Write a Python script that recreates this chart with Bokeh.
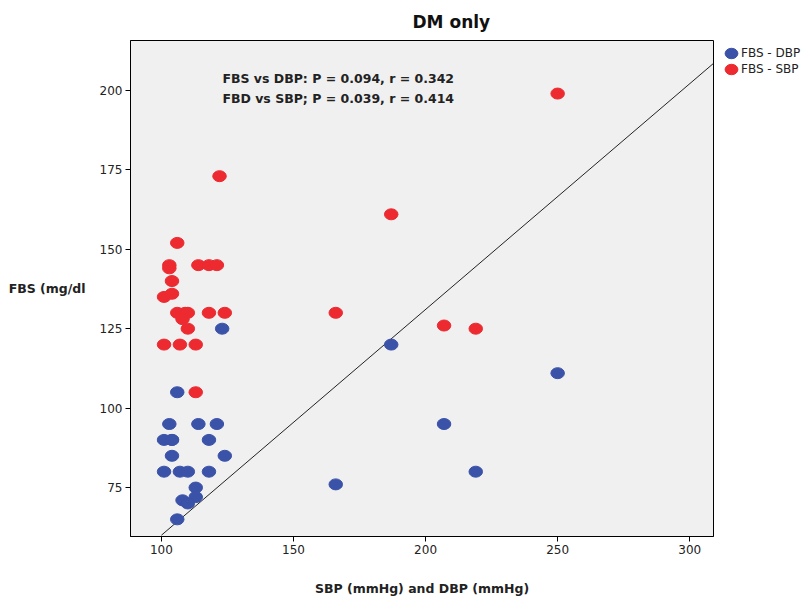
from bokeh.plotting import figure
from bokeh.models import Range1d, Label, Legend, LegendItem, FixedTicker
from bokeh.embed import file_html
from bokeh.resources import INLINE

# ---- data ----
dbp_x = [250, 187, 166, 207, 219, 123, 106, 103, 114, 121, 104, 101, 104, 118, 104, 124,
         101, 107, 110, 118, 113, 108, 113, 110, 106]
dbp_y = [111, 120, 76, 95, 80, 125, 105, 95, 95, 95, 90, 90, 90, 90, 85, 85,
         80, 80, 80, 80, 75, 71, 72, 70, 65]
sbp_x = [250, 187, 166, 207, 219, 122, 106, 103, 103, 114, 118, 121, 104, 101, 104,
         106, 109, 110, 108, 118, 124, 110, 101, 107, 113, 113]
sbp_y = [199, 161, 130, 126, 125, 173, 152, 145, 144, 145, 145, 145, 140, 135, 136,
         130, 130, 130, 128, 130, 130, 125, 120, 120, 120, 105]
ref_line_x = [100, 309]
ref_line_y = [60, 208.5]
x_ticks = [100, 150, 200, 250, 300]
y_ticks = [75, 100, 125, 150, 175, 200]
series_names = ["FBS - DBP", "FBS - SBP"]
stats_lines = ["FBS vs DBP: P = 0.094, r = 0.342", "FBD vs SBP; P = 0.039, r = 0.414"]

FONT = "DejaVu Sans"
BLUE = "#3a52a8"
RED = "#ec2a30"

p = figure(frame_width=583, frame_height=496,
           min_border_left=130, min_border_right=90,
           min_border_top=40, min_border_bottom=60,
           x_range=Range1d(88.3, 309), y_range=Range1d(59.6, 215.7),
           output_backend="svg", toolbar_location=None,
           background_fill_color="#f0f0f0", border_fill_color="white")

p.outline_line_color = "black"
p.outline_line_width = 1
p.xgrid.visible = False
p.ygrid.visible = False

p.title.text = "DM only"
p.title.text_font = FONT
p.title.text_font_size = "17px"
p.title.text_font_style = "bold"
p.title.align = "left"
p.title.offset = 282
p.title.standoff = 17
p.title.text_color = "#111111"

for ax in (p.xaxis[0], p.yaxis[0]):
    ax.major_label_text_font = FONT
    ax.major_label_text_font_size = "12px"
    ax.major_label_text_color = "#222222"
    ax.major_label_standoff = 3
    ax.axis_line_color = "black"
    ax.major_tick_line_color = "black"
    ax.major_tick_out = 5
    ax.major_tick_in = 0
    ax.minor_tick_line_color = None

p.xaxis.ticker = FixedTicker(ticks=x_ticks)
p.yaxis.ticker = FixedTicker(ticks=y_ticks)
p.xaxis.axis_label = "SBP (mmHg) and DBP (mmHg)"
p.xaxis.axis_label_text_font = FONT
p.xaxis.axis_label_text_font_size = "12.5px"
p.xaxis.axis_label_text_font_style = "bold"
p.xaxis.axis_label_text_color = "#222222"
p.xaxis.axis_label_standoff = 24

yax = p.yaxis[0]
yax.axis_label = "FBS (mg/dl"
yax.axis_label_text_font = FONT
yax.axis_label_text_font_size = "12.5px"
yax.axis_label_text_font_style = "bold"
yax.axis_label_text_color = "#222222"
yax.axis_label_standoff = 11
yax.axis_label_orientation = "horizontal"

p.line(ref_line_x, ref_line_y, line_color="#222222", line_width=1)

r_dbp = p.ellipse(dbp_x, dbp_y, width=13.5, height=11,
                  width_units="screen", height_units="screen",
                  fill_color=BLUE, line_color=BLUE)
r_sbp = p.ellipse(sbp_x, sbp_y, width=13.5, height=11,
                  width_units="screen", height_units="screen",
                  fill_color=RED, line_color=RED)

legend = Legend(items=[LegendItem(label=series_names[0], renderers=[r_dbp]),
                       LegendItem(label=series_names[1], renderers=[r_sbp])],
                location=(8, 459), orientation="vertical",
                label_text_font=FONT, label_text_font_size="12px",
                label_text_color="#222222",
                glyph_width=20, glyph_height=16, spacing=0,
                padding=0, margin=0, label_standoff=0,
                border_line_color=None, background_fill_alpha=0)
p.add_layout(legend, "right")

for i, t in enumerate(stats_lines):
    p.add_layout(Label(x=123.1, y=[203.8, 197.5][i], text=t,
                       text_font=FONT, text_font_size="12.5px", text_font_style="bold",
                       text_baseline="middle", text_color="#222222"))

open("out.html", "w").write(file_html(p, INLINE))
